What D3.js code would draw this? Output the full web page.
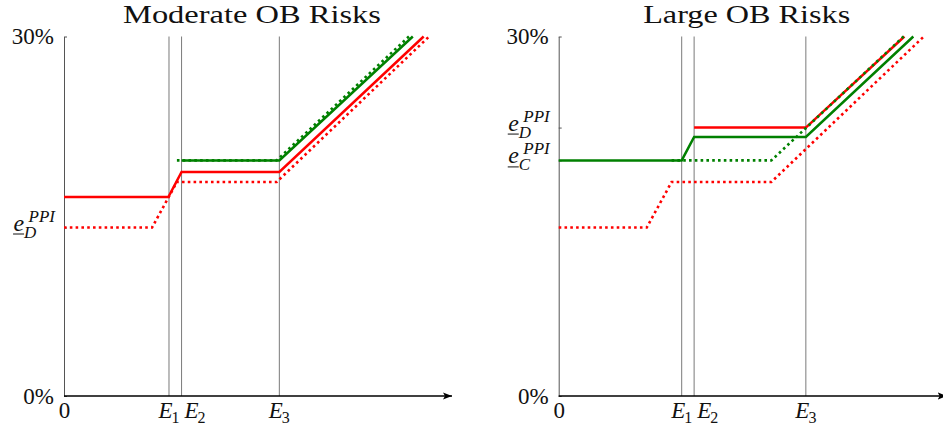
<!DOCTYPE html>
<html><head><meta charset="utf-8">
<script src="https://cdn.jsdelivr.net/npm/d3@7"></script>
<style>body{margin:0;background:#fff;overflow:hidden} svg{display:block}</style>
</head><body>
<script>
// ---------- data ----------
const panelTitles = ["Moderate OB Risks", "Large OB Risks"];
const yTickValues = [0, 30];
const yTickLabels = ["0%", "30%"];
const xTickNames = ["0", "E", "E", "E"];
const xTickSubs = ["", "1", "2", "3"];
// thresholds E1, E2, E3 per panel (x units)
const thresholdsModerate = [27.06, 30.3, 55.5];
const thresholdsLarge = [31.7, 34.9, 63.7];
// series as [x, rate %]
const redSolidModerate = [[0,16.6],[26.9,16.6],[30.3,18.69],[55.5,18.69],[92.7,30]];
const greenSolidModerate = [[30.3,19.66],[55.5,19.66],[89.9,30]];
const redDottedModerate = [[0,14.06],[22.7,14.06],[29.1,17.86],[54.8,17.86],[94.1,30]];
const greenDottedModerate = [[29.1,19.66],[54.8,19.66],[88.9,30]];
const redSolidLarge = [[34.9,22.4],[63.7,22.4],[89.1,30]];
const greenSolidLarge = [[0,19.66],[31.7,19.66],[34.9,21.62],[63.7,21.62],[91.4,30]];
const redDottedLarge = [[0,14.06],[22.7,14.06],[29.1,17.86],[54.8,17.86],[94.1,30]];
const greenDottedLarge = [[29.1,19.66],[54.8,19.66],[88.9,30]];
// special y labels (e underbar with PPI)
const eLabelValuesModerate = [14.06];
const eLabelSubsModerate = ["D"];
const eLabelValuesLarge = [22.4, 19.66];
const eLabelSubsLarge = ["D", "C"];

const panels = [
  {title: panelTitles[0], th: thresholdsModerate, left: 64,
   series: [[redSolidModerate,"red",false],[greenSolidModerate,"green",false],[redDottedModerate,"red",true],[greenDottedModerate,"green",true]],
   eVals: eLabelValuesModerate, eSubs: eLabelSubsModerate},
  {title: panelTitles[1], th: thresholdsLarge, left: 558.7,
   series: [[redSolidLarge,"red",false],[greenSolidLarge,"green",false],[redDottedLarge,"red",true],[greenDottedLarge,"green",true]],
   eVals: eLabelValuesLarge, eSubs: eLabelSubsLarge}
];
const colors = {red: "#ff0000", green: "#008000"};

const W = 943, H = 433;
const FONT = "'Liberation Serif', 'DejaVu Serif', serif";
const svg = d3.select("body").append("svg").attr("width", W).attr("height", H);

svg.append("defs").append("marker")
  .attr("id", "arrow").attr("viewBox", "0 -5 10 10")
  .attr("refX", 9).attr("refY", 0)
  .attr("markerUnits", "userSpaceOnUse")
  .attr("markerWidth", 10).attr("markerHeight", 10)
  .attr("orient", "auto")
  .append("path").attr("d", "M0,-3.6 L9,0 L0,3.6 L2,0 Z").attr("fill", "#000");

const y = d3.scaleLinear().domain([0, 30]).range([396, 36.5]);
const span = 388;

panels.forEach((p, i) => {
  const x = d3.scaleLinear().domain([0, 100]).range([p.left, p.left + span]);
  const g = svg.append("g");

  // title
  g.append("text").attr("x", (x(0) + x(100)) / 2 - 6).attr("y", 23)
    .attr("text-anchor", "middle").attr("font-family", FONT).attr("font-size", 26)
    .attr("textLength", i === 0 ? 258 : 207).attr("lengthAdjust", "spacingAndGlyphs")
    .attr("fill", "#111")
    .text(p.title);

  // vertical threshold lines
  g.selectAll("line.th").data(p.th).enter().append("line")
    .attr("x1", d => x(d)).attr("x2", d => x(d))
    .attr("y1", y(0)).attr("y2", y(30))
    .attr("stroke", "#7a7a7a").attr("stroke-width", 1);

  // y axis
  const yAxis = d3.axisLeft(y)
    .tickValues(yTickValues.concat(p.eVals))
    .tickSizeInner(-3).tickSizeOuter(0).tickPadding(10)
    .tickFormat(d => { const k = yTickValues.indexOf(d); return k >= 0 ? yTickLabels[k] : ""; });
  const ya = g.append("g").attr("transform", `translate(${x(0)},0)`).call(yAxis);
  ya.select(".domain").attr("stroke", "#555").attr("stroke-width", 1);
  ya.selectAll(".tick line").attr("stroke", "#555");
  ya.selectAll(".tick text").attr("font-family", FONT).attr("font-size", 23).attr("fill", "#111");

  // e labels
  p.eVals.forEach((v, k) => {
    const yy = y(v) + 3;
    const xr = x(0) - 9;
    const lg = g.append("g").attr("font-family", FONT).attr("fill", "#111");
    const sup = lg.append("text").attr("x", xr).attr("y", yy - 9).attr("text-anchor", "end")
      .attr("font-size", 17).attr("font-style", "italic").text("PPI");
    const supW = sup.node().getComputedTextLength();
    const eX = xr - supW - 15;
    lg.append("text").attr("x", eX).attr("y", yy).attr("font-size", 24).attr("font-style", "italic").text("e");
    lg.append("line").attr("x1", eX - 0.5).attr("x2", eX + 10.5).attr("y1", yy + 3.5).attr("y2", yy + 3.5)
      .attr("stroke", "#111").attr("stroke-width", 1);
    lg.append("text").attr("x", eX + 10.5).attr("y", yy + 7).attr("font-size", 17).attr("font-style", "italic").text(p.eSubs[k]);
  });

  // x axis
  const ticks = [0].concat(p.th);
  const xAxis = d3.axisBottom(x).tickValues(ticks).tickSize(0).tickPadding(4).tickFormat(() => "");
  const xa = g.append("g").attr("transform", `translate(0,${y(0)})`).call(xAxis);
  xa.select(".domain").remove();
  g.append("line").attr("x1", x(0)).attr("x2", x(100)).attr("y1", y(0)).attr("y2", y(0))
    .attr("stroke", "#000").attr("stroke-width", 1.4).attr("marker-end", "url(#arrow)");

  let prevRight = -Infinity;
  xa.selectAll(".tick text").each(function(d, j) {
    const t = d3.select(this).attr("font-family", FONT).attr("font-size", 23).attr("fill", "#111")
      .attr("text-anchor", "start").attr("dy", "0.8em");
    t.append("tspan").attr("font-style", j === 0 ? "normal" : "italic").text(xTickNames[j]);
    if (xTickSubs[j]) t.append("tspan").attr("font-size", 16).attr("dy", 5).attr("dx", -1).text(xTickSubs[j]);
    const w = this.getComputedTextLength();
    let start = -w / 2;
    const absStart = x(d) + start;
    if (absStart < prevRight + 4) start = prevRight + 4 - x(d);
    t.attr("x", start);
    prevRight = x(d) + start + w;
  });

  // series
  const line = d3.line().x(d => x(d[0])).y(d => y(d[1]));
  p.series.forEach(([data, c, dotted]) => {
    g.append("path").datum(data).attr("d", line)
      .attr("fill", "none").attr("stroke", colors[c])
      .attr("stroke-width", dotted ? 2.6 : 2.5)
      .attr("stroke-dasharray", dotted ? "2.6,3.2" : null)
      .attr("stroke-linejoin", "miter");
  });
});
</script>
</body></html>
